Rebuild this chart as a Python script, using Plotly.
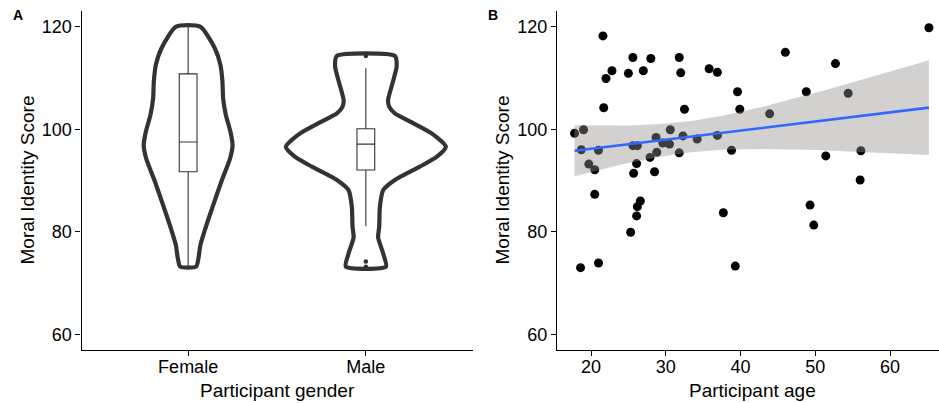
import numpy as np
import plotly.graph_objects as go

# ---------------- data ----------------
genders = ["Female", "Male"]

# violin outline: score levels and density half-widths (category units)
female_levels = [120.0, 115.8, 112.5, 109.3, 106.0, 102.8, 99.5, 96.9, 94.3, 89.8, 85.2, 81.3, 77.4, 74.8, 73.2]
female_halfw  = [0.068, 0.150, 0.182, 0.193, 0.197, 0.212, 0.238, 0.250, 0.236, 0.187, 0.141, 0.103, 0.069, 0.058, 0.045]
male_levels = [114.3, 112.2, 109.0, 105.7, 104.4, 103.1, 101.2, 99.2, 96.6, 94.6, 92.7, 90.1, 88.1, 84.9, 81.0, 78.9, 75.8, 73.2]
male_halfw  = [0.163, 0.173, 0.150, 0.125, 0.131, 0.163, 0.266, 0.370, 0.450, 0.398, 0.304, 0.163, 0.097, 0.079, 0.075, 0.069, 0.097, 0.113]

# box plot statistics
box_q1 = [91.7, 92.05]
box_median = [97.5, 97.1]
box_q3 = [110.8, 100.1]
box_lower = [73.2, 81.1]
box_upper = [120.0, 111.9]
male_outliers = [114.3, 74.2, 73.2]

# panel B: participant age vs moral identity score
ages = [17.8, 19.0, 18.7, 21.6, 22.0, 22.8, 21.7, 21.0, 19.7, 20.5, 20.5, 25.0, 25.6, 27.0, 28.0,
        25.6, 26.2, 26.1, 25.7, 26.6, 26.2, 26.1, 25.3, 27.9, 28.5, 28.8, 28.7, 29.6, 30.6, 30.5,
        31.8, 32.3, 31.8, 32.0, 32.5, 34.2, 35.8, 36.9, 36.9, 38.8, 39.6, 39.9, 43.9, 46.0, 48.8,
        52.7, 54.4, 51.4, 56.1, 56.0, 65.2, 37.7, 39.3, 49.3, 49.8, 18.6, 21.0]
scores = [99.2, 99.9, 96.0, 118.2, 109.9, 111.4, 104.2, 95.9, 93.2, 92.1, 87.3, 110.9, 114.0, 111.4, 113.8,
          96.8, 96.8, 93.3, 91.4, 86.0, 84.9, 83.1, 79.9, 94.5, 91.7, 95.5, 98.4, 97.3, 99.9, 97.1,
          95.4, 98.7, 114.0, 111.0, 103.9, 98.1, 111.8, 111.1, 98.8, 95.9, 107.3, 103.9, 103.0, 115.0, 107.3,
          112.8, 107.0, 94.8, 95.8, 90.1, 119.8, 83.7, 73.3, 85.2, 81.3, 73.0, 73.9]

y_ticks = [60, 80, 100, 120]
age_ticks = [20, 30, 40, 50, 60]

# ---------------- layout geometry ----------------
W, H = 939, 403
def px_x(p): return p / W
def px_y(p): return 1 - p / H

FONT = "Liberation Sans, Arial, sans-serif"
DARK = "#333333"

fig = go.Figure()

# ---- Panel A: boxes (drawn in the bar/box layer, below the outline) ----
for i in range(2):
    fig.add_trace(go.Box(x=[i + 1], q1=[box_q1[i]], median=[box_median[i]], q3=[box_q3[i]],
                         lowerfence=[box_lower[i]], upperfence=[box_upper[i]],
                         width=0.1, whiskerwidth=0, fillcolor="white",
                         line=dict(color=DARK, width=1.1), boxpoints=False,
                         showlegend=False, xaxis="x", yaxis="y"))

# ---- violin outlines ----
for i, (lv, hw) in enumerate([(female_levels, female_halfw), (male_levels, male_halfw)]):
    c = i + 1
    lv = np.array(lv); hw = np.array(hw)
    xs = np.concatenate([c + hw, (c - hw)[::-1], [c + hw[0]]])
    ys = np.concatenate([lv, lv[::-1], [lv[0]]])
    fig.add_trace(go.Scatter(x=xs, y=ys, mode="lines",
                             line=dict(color=DARK, width=4.2, shape="spline", smoothing=0.6),
                             hoverinfo="skip", showlegend=False, xaxis="x", yaxis="y"))

fig.add_trace(go.Scatter(x=[2] * len(male_outliers), y=male_outliers, mode="markers",
                         marker=dict(color=DARK, size=4.5), showlegend=False, xaxis="x", yaxis="y"))

# ---- Panel B: scatter + lm fit with 95% CI ----
xa = np.array(ages); ya = np.array(scores)
fig.add_trace(go.Scatter(x=xa, y=ya, mode="markers",
                         marker=dict(color="black", size=9, line=dict(width=0)),
                         showlegend=False, xaxis="x2", yaxis="y2"))

n = len(xa)
b1, b0 = np.polyfit(xa, ya, 1)
resid = ya - (b0 + b1 * xa)
s = np.sqrt(np.sum(resid ** 2) / (n - 2))
xbar = xa.mean(); sxx = np.sum((xa - xbar) ** 2)
grid = np.linspace(xa.min(), xa.max(), 80)
fit = b0 + b1 * grid
se = s * np.sqrt(1 / n + (grid - xbar) ** 2 / sxx)
tval = 2.004
upper = fit + tval * se
lower = fit - tval * se

fig.add_trace(go.Scatter(x=np.concatenate([grid, grid[::-1]]), y=np.concatenate([upper, lower[::-1]]),
                         mode="lines", fill="toself", fillcolor="rgba(150,144,144,0.42)",
                         line=dict(width=0), hoverinfo="skip", showlegend=False,
                         xaxis="x2", yaxis="y2"))
fig.add_trace(go.Scatter(x=grid, y=fit, mode="lines", line=dict(color="#3366FF", width=2.6),
                         showlegend=False, xaxis="x2", yaxis="y2"))

# ---------------- axes ----------------
axis_common = dict(showline=True, linecolor="black", linewidth=1.4, ticks="outside", ticklen=5,
                   tickwidth=1.2, tickcolor="black", showgrid=False, zeroline=False,
                   tickfont=dict(family=FONT, size=18, color="black"))

y_dom = [px_y(350), px_y(11)]
y_range = [56.94, 123.06]

fig.update_layout(
    width=W, height=H, margin=dict(l=0, r=0, t=0, b=0),
    paper_bgcolor="white", plot_bgcolor="white",
    xaxis=dict(domain=[px_x(81.5), px_x(472.5)], range=[0.4, 2.6], tickvals=[1, 2], ticktext=genders,
               anchor="y", ticklabelstandoff=-5, **axis_common),
    yaxis=dict(domain=y_dom, range=y_range, tickvals=y_ticks, anchor="x", **axis_common),
    xaxis2=dict(domain=[px_x(557), 1.0], range=[15.45, 66.55], tickvals=age_ticks, anchor="y2",
                ticklabelstandoff=-5, **axis_common),
    yaxis2=dict(domain=y_dom, range=y_range, tickvals=y_ticks, anchor="x2", **axis_common),
)

title_font = dict(family=FONT, size=19, color="black")
annots = [
    dict(text="<b>A</b>", x=px_x(17.5), y=px_y(15), font=dict(family=FONT, size=14, color="black")),
    dict(text="<b>B</b>", x=px_x(493), y=px_y(15), font=dict(family=FONT, size=14, color="black")),
    dict(text="Participant gender", x=px_x(277), y=px_y(390), font=title_font),
    dict(text="Participant age", x=px_x(752.7), y=px_y(390), font=title_font),
    dict(text="Moral Identity Score", x=px_x(27), y=px_y(180.5), textangle=-90, font=title_font),
    dict(text="Moral Identity Score", x=px_x(502), y=px_y(180.5), textangle=-90, font=title_font),
]
for a in annots:
    fig.add_annotation(xref="paper", yref="paper", xanchor="center", yanchor="middle",
                       showarrow=False, **a)

fig.write_html("out.html", config={"displayModeBar": False},
               post_script="document.body.style.margin='0';")
